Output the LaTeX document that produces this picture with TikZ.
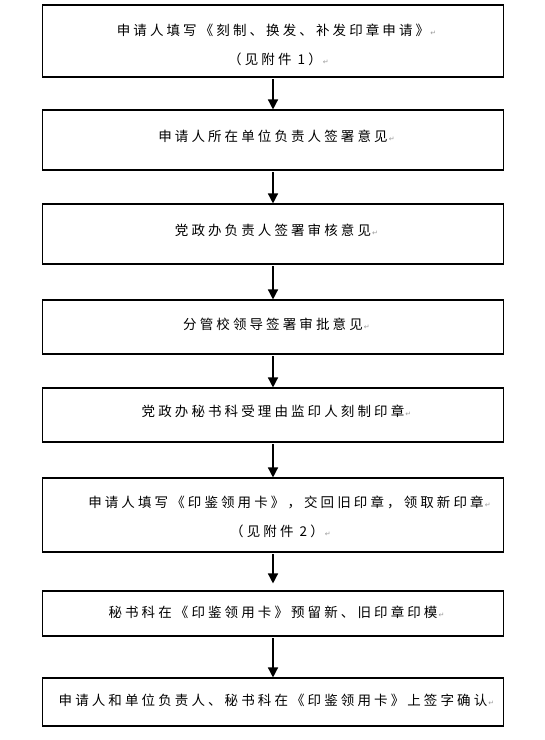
\documentclass[tikz,border=0pt]{standalone}
\usepackage{fontspec}
\usetikzlibrary{arrows.meta}
\newfontfamily\cjk[LetterSpace=23]{Noto Sans CJK SC}
\newfontfamily\symf{DejaVu Sans}
\newcommand{\parmark}{\rlap{\symf\fontsize{7}{8}\selectfont\color{black!40}\,↵}}
\begin{document}
\begin{tikzpicture}[x=1pt,y=-1pt,
  stepbox/.style={draw, line width=1.1pt, minimum width=461pt, inner sep=0pt},
  txt/.style={inner sep=0pt, font=\cjk\fontsize{13.5}{13.5}\selectfont},
  flow/.style={-{Triangle[width=10pt,length=10pt]}, line width=1.4pt, shorten <=1.5pt}]
\useasboundingbox (0,0) rectangle (545,740);
\node[stepbox, minimum height=72pt] (b1) at (273,41) {};
\node[stepbox, minimum height=60pt] (b2) at (273,140) {};
\node[stepbox, minimum height=60pt] (b3) at (273,234) {};
\node[stepbox, minimum height=54pt] (b4) at (273,327) {};
\node[stepbox, minimum height=54pt] (b5) at (273,415) {};
\node[stepbox, minimum height=74pt] (b6) at (273,515) {};
\node[stepbox, minimum height=45pt] (b7) at (273,613.5) {};
\node[stepbox, minimum height=48pt] (b8) at (273,702) {};
\node[txt] (t1a) at (273,30) {申请人填写《刻制、换发、补发印章申请》\parmark};
\node[txt] (t1b) at (275,59) {（见附件 1）\parmark};
\node[txt] (t2) at (273,136) {申请人所在单位负责人签署意见\parmark};
\node[txt] (t3) at (273,230) {党政办负责人签署审核意见\parmark};
\node[txt] (t4) at (273,324) {分管校领导签署审批意见\parmark};
\node[txt] (t5) at (273,411) {党政办秘书科受理由监印人刻制印章\parmark};
\node[txt] (t6a) at (286,502) {申请人填写《印鉴领用卡》，交回旧印章，领取新印章\parmark};
\node[txt] (t6b) at (277,531) {（见附件 2）\parmark};
\node[txt] (t7) at (273,612) {秘书科在《印鉴领用卡》预留新、旧印章印模\parmark};
\node[txt] (t8) at (273,700) {申请人和单位负责人、秘书科在《印鉴领用卡》上签字确认\parmark};
\draw[flow] (b1.south) -- (b2.north);
\draw[flow] (b2.south) -- (b3.north);
\draw[flow] (b3.south) -- (b4.north);
\draw[flow] (b4.south) -- (b5.north);
\draw[flow] (b5.south) -- (b6.north);
\draw[flow, shorten >=7pt] (b6.south) -- (b7.north);
\draw[flow] (b7.south) -- (b8.north);
\end{tikzpicture}
\end{document}
